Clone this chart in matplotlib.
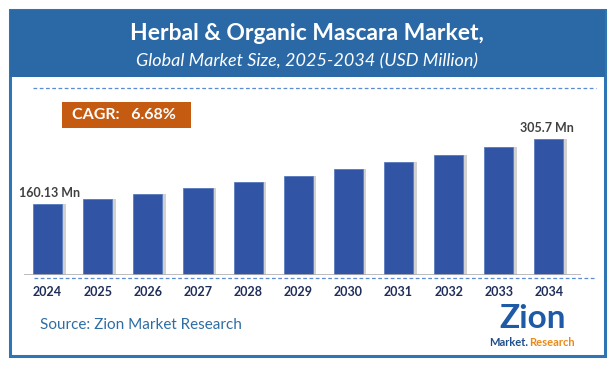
import matplotlib
matplotlib.use("Agg")
import matplotlib.pyplot as plt
from matplotlib.patches import Rectangle
from matplotlib.lines import Line2D

years = ["2024", "2025", "2026", "2027", "2028", "2029", "2030", "2031", "2032", "2033", "2034"]
values = [160.13, 171, 182, 195, 208, 222, 237, 253, 270, 287, 305.7]
first_label = "160.13 Mn"
last_label = "305.7 Mn"
title = "Herbal & Organic Mascara Market,"
subtitle = "Global Market Size, 2025-2034 (USD Million)"
cagr_text = "CAGR:   6.68%"
source_text = "Source: Zion Market Research"

W, H = 614, 369
fig = plt.figure(figsize=(W / 100, H / 100), dpi=100)
fig.patch.set_facecolor("white")
FONT = "Lato"

def fx(x):
    return x / W

def fy(y):
    return 1 - y / H

# outer frame
fig.add_artist(Rectangle((fx(10), fy(356)), fx(595), (346) / H, transform=fig.transFigure,
                         fill=False, edgecolor="#2E75B6", linewidth=2.2))
# header band
fig.add_artist(Rectangle((fx(10), fy(77)), fx(595), 67 / H, transform=fig.transFigure,
                         facecolor="#2B69A6", edgecolor="#2B69A6", linewidth=0))
fig.text(0.5, fy(34), title, ha="center", va="center", color="white",
         fontsize=16.5, fontweight="bold", family=FONT)
fig.text(0.5, fy(61), subtitle, ha="center", va="center", color="white",
         fontsize=13, style="italic", family=FONT)

# axes
left, right, top, bottom = 24, 581, 88, 275
ax = fig.add_axes([fx(left), fy(bottom), fx(right - left), (bottom - top) / H])
ax.set_xlim(-0.47, 10.64)
ymax = (bottom - top) * 2.243
ax.set_ylim(0, ymax)
ax.axis("off")

x = list(range(len(years)))
bw = 0.58
# shadows
ax.bar([i + 0.07 for i in x], values, width=bw, color="#9a9a9a", alpha=0.45, zorder=1)
ax.bar(x, values, width=bw, color="#3155A4", edgecolor="#5a7cc0", linewidth=0.6, zorder=2)
ax.axhline(0, color="#b0b0b0", linewidth=1.2, zorder=3)

ax.text(x[0] + 0.03, values[0] + 10, first_label, ha="center", va="bottom",
        fontsize=9, fontweight="bold", color="#404040", family=FONT)
ax.text(x[-1] - 0.03, values[-1] + 10, last_label, ha="center", va="bottom",
        fontsize=9, fontweight="bold", color="#404040", family=FONT)

for i, yr in enumerate(years):
    ax.text(i, -(292 - bottom) * 2.243, yr, ha="center", va="center",
            fontsize=9, fontweight="bold", color="#1F2D5A", family=FONT)

# dashed lines
fig.add_artist(Line2D([fx(33), fx(596)], [fy(88), fy(88)], transform=fig.transFigure,
                      color="#5B8BD0", linewidth=0.9, linestyle=(0, (3, 2))))
fig.add_artist(Line2D([fx(34), fx(596)], [fy(278), fy(278)], transform=fig.transFigure,
                      color="#5B8BD0", linewidth=0.9, linestyle=(0, (3, 2))))

# CAGR box
fig.add_artist(Rectangle((fx(62), fy(128)), fx(129), 26 / H, transform=fig.transFigure,
                         facecolor="#C55A11", edgecolor="none"))
fig.text(fx(124), fy(115), cagr_text, ha="center", va="center", color="white",
         fontsize=11.5, fontweight="bold", family=FONT)

# source
fig.text(fx(40), fy(325), source_text, ha="left", va="center", color="#2E6DA4",
         fontsize=11, family=FONT)

# logo (text approximation)
fig.text(fx(533), fy(319), "Zion", ha="center", va="center", color="#1F5AA6",
         fontsize=24, fontweight="bold", family=FONT)
fig.text(fx(528), fy(343), "Market.", ha="right", va="center", color="#1F4E8C",
         fontsize=8, fontweight="bold", family=FONT)
fig.text(fx(529), fy(343), "Research", ha="left", va="center", color="#E98A16",
         fontsize=8, fontweight="bold", family=FONT)

fig.savefig("out.png", dpi=100, facecolor="white")
